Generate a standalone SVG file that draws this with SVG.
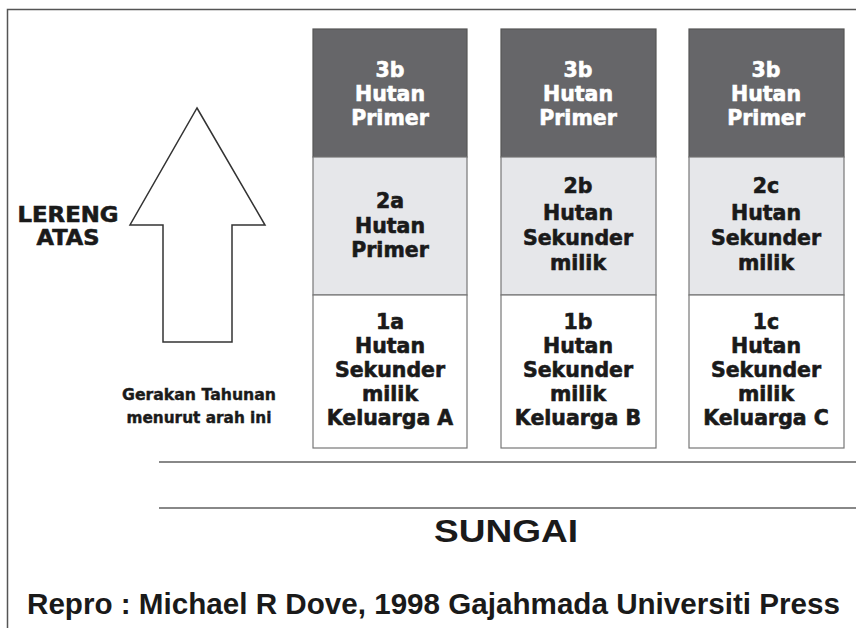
<svg xmlns="http://www.w3.org/2000/svg" width="856" height="628" viewBox="0 0 856 628">
<style>
.bx{font-family:"DejaVu Sans","Liberation Sans",sans-serif;font-weight:bold;font-size:20.5px;text-anchor:middle;stroke-width:0.6}
.dk{fill:#666669;stroke:#555;stroke-width:1.2}
.lt{fill:#e6e7ea;stroke:#777;stroke-width:1.2}
.wh{fill:#ffffff;stroke:#777;stroke-width:1.2}
.tw{fill:#ffffff;stroke:#ffffff}
.tb{fill:#1a1a1a;stroke:#1a1a1a}
</style>
<rect x="0" y="0" width="856" height="628" fill="#fff"/>
<rect x="7.5" y="9.5" width="880" height="640" fill="none" stroke="#555" stroke-width="1.5"/>
<g id="arrow">
<polygon points="197,108 265,225 232,225 232,342 163,342 163,225 130,225" fill="#fff" stroke="#333" stroke-width="1.5"/>
</g>
<g id="lereng" font-family="DejaVu Sans,Liberation Sans,sans-serif" font-weight="bold" font-size="21" fill="#1a1a1a" stroke="#1a1a1a" stroke-width="0.6" text-anchor="middle">
<text x="68" y="222" textLength="101" lengthAdjust="spacingAndGlyphs">LERENG</text>
<text x="68" y="245" textLength="63" lengthAdjust="spacingAndGlyphs">ATAS</text>
</g>
<g id="gerakan" font-family="DejaVu Sans,Liberation Sans,sans-serif" font-weight="bold" font-size="15" fill="#1a1a1a" stroke="#1a1a1a" stroke-width="0.4" text-anchor="middle">
<text x="199" y="400" textLength="154" lengthAdjust="spacingAndGlyphs">Gerakan Tahunan</text>
<text x="199" y="423" textLength="145" lengthAdjust="spacingAndGlyphs">menurut arah ini</text>
</g>
<g id="colA">
<rect class="dk" x="313" y="29" width="154" height="128"/>
<rect class="lt" x="313" y="157" width="154" height="138"/>
<rect class="wh" x="313" y="295" width="154" height="153"/>
<text class="bx tw" x="390" y="77">3b</text><text class="bx tw" x="390" y="101">Hutan</text><text class="bx tw" x="390" y="125">Primer</text>
<text class="bx tb" x="390" y="208">2a</text><text class="bx tb" x="390" y="233">Hutan</text><text class="bx tb" x="390" y="257">Primer</text>
<text class="bx tb" x="390" y="329">1a</text><text class="bx tb" x="390" y="353">Hutan</text><text class="bx tb" x="390" y="377">Sekunder</text><text class="bx tb" x="390" y="401">milik</text><text class="bx tb" x="390" y="425">Keluarga A</text>
</g>
<g id="colB">
<rect class="dk" x="501" y="29" width="155" height="128"/>
<rect class="lt" x="501" y="157" width="155" height="138"/>
<rect class="wh" x="501" y="295" width="155" height="153"/>
<text class="bx tw" x="578" y="77">3b</text><text class="bx tw" x="578" y="101">Hutan</text><text class="bx tw" x="578" y="125">Primer</text>
<text class="bx tb" x="578" y="193">2b</text><text class="bx tb" x="578" y="220">Hutan</text><text class="bx tb" x="578" y="245">Sekunder</text><text class="bx tb" x="578" y="270">milik</text>
<text class="bx tb" x="578" y="329">1b</text><text class="bx tb" x="578" y="353">Hutan</text><text class="bx tb" x="578" y="377">Sekunder</text><text class="bx tb" x="578" y="401">milik</text><text class="bx tb" x="578" y="425">Keluarga B</text>
</g>
<g id="colC">
<rect class="dk" x="689" y="29" width="155" height="128"/>
<rect class="lt" x="689" y="157" width="155" height="138"/>
<rect class="wh" x="689" y="295" width="155" height="153"/>
<text class="bx tw" x="766" y="77">3b</text><text class="bx tw" x="766" y="101">Hutan</text><text class="bx tw" x="766" y="125">Primer</text>
<text class="bx tb" x="766" y="193">2c</text><text class="bx tb" x="766" y="220">Hutan</text><text class="bx tb" x="766" y="245">Sekunder</text><text class="bx tb" x="766" y="270">milik</text>
<text class="bx tb" x="766" y="329">1c</text><text class="bx tb" x="766" y="353">Hutan</text><text class="bx tb" x="766" y="377">Sekunder</text><text class="bx tb" x="766" y="401">milik</text><text class="bx tb" x="766" y="425">Keluarga C</text>
</g>
<g id="river">
<line x1="159" y1="462" x2="856" y2="462" stroke="#888" stroke-width="2"/>
<line x1="159" y1="508" x2="856" y2="508" stroke="#888" stroke-width="2"/>
<text x="506" y="542" font-family="Liberation Sans,Arial,sans-serif" font-weight="bold" font-size="31" fill="#1a1a1a" text-anchor="middle" textLength="144" lengthAdjust="spacingAndGlyphs">SUNGAI</text>
</g>
<g id="credit">
<text x="27" y="614" font-family="Liberation Sans,Arial,sans-serif" font-weight="bold" font-size="30" fill="#1a1a1a" textLength="813" lengthAdjust="spacingAndGlyphs">Repro : Michael R Dove, 1998 Gajahmada Universiti Press</text>
</g>
</svg>
